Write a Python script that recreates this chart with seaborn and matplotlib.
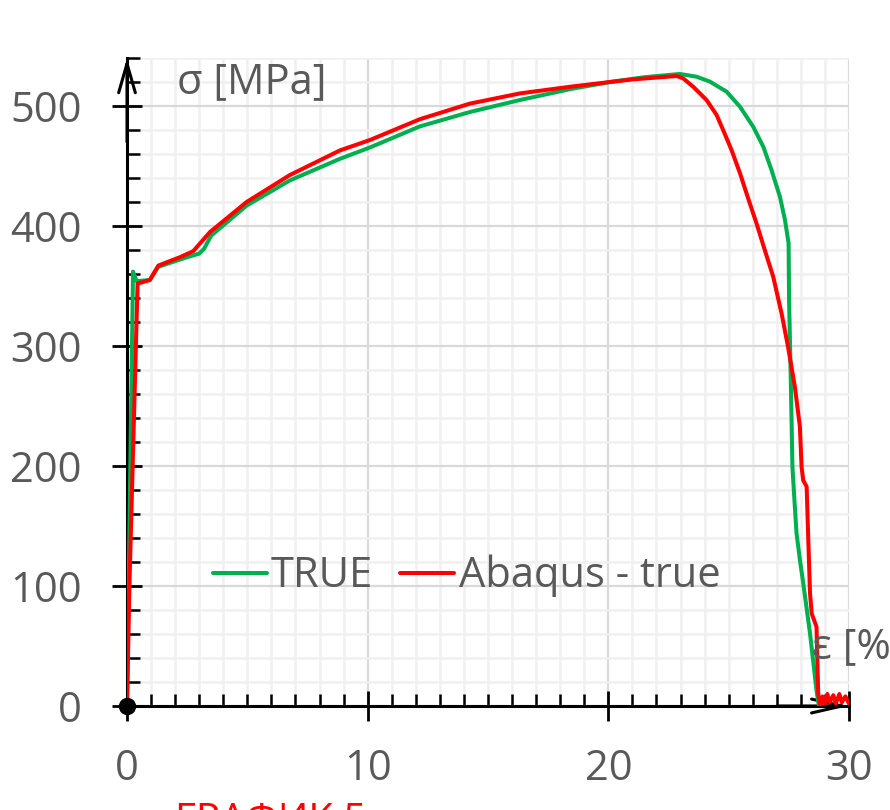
import numpy as np
import pandas as pd
import matplotlib
matplotlib.use("Agg")
import matplotlib.pyplot as plt
import seaborn as sns
from matplotlib.ticker import MultipleLocator

# ---- data ----
true_strain = [0.0, 0.25, 0.4, 0.95, 1.3, 2.5, 3.0, 3.2, 3.5, 4.97, 6.77, 8.85, 10.1,
               12.17, 14.25, 16.33, 18.4, 20.07, 21.5, 22.97, 23.67, 24.22, 24.91,
               25.47, 26.02, 26.44, 26.78, 27.13, 27.34, 27.49, 27.51, 27.54, 27.57,
               27.61, 27.65, 27.75, 27.82, 27.96, 28.1, 28.38, 28.65, 28.75]
true_stress = [0, 362, 354, 355, 366, 374, 377, 381, 392, 417, 438, 456, 465.5,
               483, 495, 505, 514, 520, 524, 526.7, 524.4, 520.3, 512,
               499.4, 482.7, 466, 446.7, 424.4, 405, 385.6, 338, 310.6, 282.8,
               241, 199, 166, 144, 121.7, 102, 60.5, 13, 0]

abaqus_strain = [0.0, 0.1, 0.44, 0.95, 1.3, 2.2, 2.75, 3.45, 4.97, 6.77, 8.85, 10.1,
                 12.17, 14.25, 16.33, 18.4, 20.07, 21.03, 22.84, 23.11, 23.53, 24.08,
                 24.5, 24.77, 25.12, 25.47, 25.81, 26.16, 26.5, 26.85, 27.2, 27.47,
                 27.75, 27.96, 28.03, 28.1, 28.24, 28.3, 28.38, 28.45, 28.65,
                 28.72, 28.8, 28.9, 29.0, 29.1, 29.2, 29.35, 29.45, 29.6, 29.7, 29.85, 30.0]
abaqus_stress = [0, 100, 352, 355, 367, 374, 379, 395, 420, 442.5, 463, 471.7,
                 489, 502, 510.5, 516, 520, 522.2, 525, 523, 516, 505,
                 492.5, 480, 463.3, 444, 423, 402, 380, 357.8, 327, 299,
                 266, 232.8, 199, 188, 182.8, 144, 94, 77, 66,
                 10.5, 0, 8, 2, 10, 3, 9, 2, 10, 3, 8, 2]

x_ticks = [0, 10, 20, 30]
y_ticks = [0, 100, 200, 300, 400, 500]
series_names = ["TRUE", "Abaqus - true"]
y_label = "σ [MPa]"
x_label = "ε [%]"
caption = "ГРАФИК 5"

GREEN = "#00B050"
RED = "#FF0000"
GRAY = "#595959"

sns.set_style("white")
plt.rcParams["font.family"] = ["Open Sans", "DejaVu Sans"]

fig = plt.figure(figsize=(8.9, 8.1), dpi=100)
ax = fig.add_axes([127 / 890, 1 - 706 / 810, (849 - 127) / 890, (706 - 58) / 810])

df_true = pd.DataFrame({"strain": true_strain, "stress": true_stress})
df_aba = pd.DataFrame({"strain": abaqus_strain, "stress": abaqus_stress})

sns.lineplot(data=df_true, x="strain", y="stress", sort=False, estimator=None,
             color=GREEN, lw=2.9, ax=ax, label=series_names[0], zorder=4)
sns.lineplot(data=df_aba, x="strain", y="stress", sort=False, estimator=None,
             color=RED, lw=2.9, ax=ax, label=series_names[1], zorder=5)

ax.set_xlim(0, 30)
ax.set_ylim(0, 540)
ax.set_xlabel("")
ax.set_ylabel("")

ax.set_xticks(x_ticks)
ax.set_yticks(y_ticks)
ax.xaxis.set_minor_locator(MultipleLocator(1))
ax.yaxis.set_minor_locator(MultipleLocator(20))

ax.grid(which="minor", color="#F0F0F0", lw=1.8, zorder=0)
ax.grid(which="major", color="#D9D9D9", lw=1.6, zorder=0)
ax.set_axisbelow(True)

for s in ["top", "right"]:
    ax.spines[s].set_visible(False)
for s in ["left", "bottom"]:
    ax.spines[s].set_color("black")
    ax.spines[s].set_linewidth(2.2)

ax.tick_params(which="both", bottom=True, left=True, top=False, right=False)
ax.tick_params(which="major", direction="inout", length=21, width=2.0,
               color="black", labelsize=30, labelcolor=GRAY)
ax.tick_params(axis="y", which="major", pad=22)
ax.tick_params(axis="x", which="major", pad=20)
ax.tick_params(which="minor", direction="in", length=9, width=1.8, color="black")

# axis arrows
ax.annotate("", xy=(0, 540), xytext=(0, 470), annotation_clip=False,
            arrowprops=dict(arrowstyle="->,head_length=1.05,head_width=0.3",
                            lw=2.2, color="black", mutation_scale=20,
                            shrinkA=0, shrinkB=0), zorder=6)
ax.annotate("", xy=(30, 0), xytext=(27, 0), annotation_clip=False,
            arrowprops=dict(arrowstyle="->,head_length=1.1,head_width=0.25",
                            lw=2.2, color="black", mutation_scale=20,
                            shrinkA=0, shrinkB=0), zorder=3)

# origin dot
ax.plot([0], [0], "o", color="black", ms=11.5, clip_on=False, zorder=7)

# legend
ax.legend(loc="center", bbox_to_anchor=(0.524, 0.289), bbox_transform=fig.transFigure,
          ncol=2, frameon=False, fontsize=30, handlelength=1.3, handletextpad=0.1,
          columnspacing=0.65, labelcolor=GRAY)

# axis titles
fig.text(177 / 890, 1 - 93 / 810, y_label, fontsize=30, color=GRAY, va="baseline", ha="left")
fig.text(812 / 890, 1 - 658 / 810, x_label, fontsize=30, color=GRAY, va="baseline", ha="left")
fig.text(175 / 890, 1 - 832 / 810, caption, fontsize=29, color=RED, va="baseline", ha="left")

fig.savefig("out.png", dpi=100)
